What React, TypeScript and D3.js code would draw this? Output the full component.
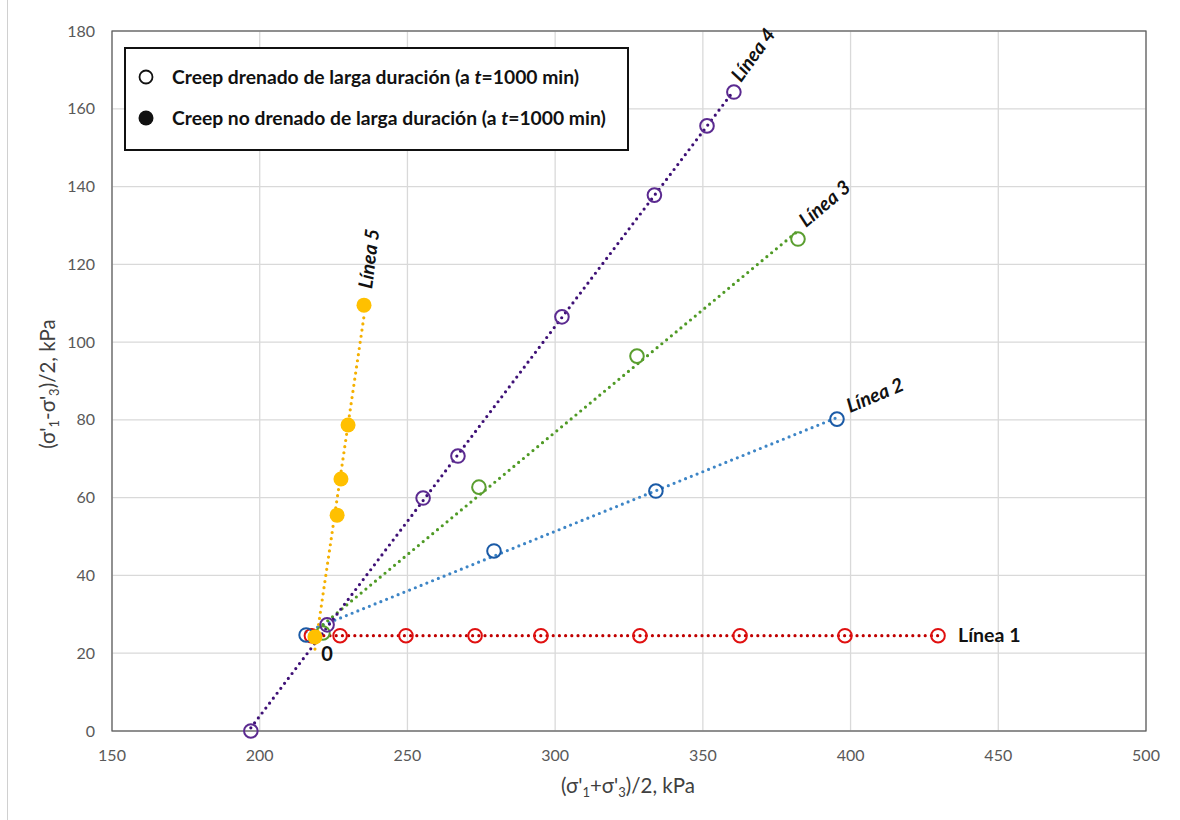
import React from "react";
import * as d3 from "d3";

const xTicks = [150, 200, 250, 300, 350, 400, 450, 500];
const yTicks = [0, 20, 40, 60, 80, 100, 120, 140, 160, 180];

const line1X = [217.5, 227.2, 249.5, 272.9, 295.2, 328.7, 362.6, 398.1, 429.6];
const line1Y = [24.5, 24.5, 24.5, 24.5, 24.5, 24.5, 24.5, 24.5, 24.5];
const line2X = [215.7, 279.3, 334.1, 395.4];
const line2Y = [24.7, 46.3, 61.7, 80.2];
const line3X = [221.4, 274.2, 327.7, 382.2];
const line3Y = [25.2, 62.7, 96.4, 126.5];
const line4X = [197.0, 222.8, 255.3, 267.1, 302.3, 333.6, 351.4, 360.5];
const line4Y = [0, 27.3, 59.9, 70.7, 106.5, 137.8, 155.6, 164.3];
const line5X = [218.7, 226.2, 227.5, 229.9, 235.3];
const line5Y = [24.2, 55.5, 64.8, 78.7, 109.5];

const seriesNames = ["Línea 1", "Línea 2", "Línea 3", "Línea 4", "Línea 5"];
const legendLabels = [
  "Creep drenado de larga duración (a ",
  "Creep no drenado de larga duración (a ",
];

const W = 1180;
const H = 820;
const M = { left: 112, right: 1146, top: 31, bottom: 731 };

const FONT = "Lato, 'Open Sans', sans-serif";

function fit(xs: number[], ys: number[]) {
  const n = xs.length;
  const mx = d3.mean(xs)!;
  const my = d3.mean(ys)!;
  let sxy = 0, sxx = 0;
  for (let i = 0; i < n; i++) {
    sxy += (xs[i] - mx) * (ys[i] - my);
    sxx += (xs[i] - mx) * (xs[i] - mx);
  }
  const b = sxy / sxx;
  const a = my - b * mx;
  const [x0, x1] = d3.extent(xs) as [number, number];
  return [
    [x0, a + b * x0],
    [x1, a + b * x1],
  ] as [number, number][];
}

export default function App() {
  const x = d3.scaleLinear().domain([150, 500]).range([M.left, M.right]);
  const y = d3.scaleLinear().domain([0, 180]).range([M.bottom, M.top]);
  const lineGen = d3
    .line<[number, number]>()
    .x((d) => x(d[0]))
    .y((d) => y(d[1]));

  const series = [
    { xs: line1X, ys: line1Y, mark: "#E01010", line: "#C00000", filled: false, dx: 20, dy: 6, rot: 0, italic: false },
    { xs: line2X, ys: line2Y, mark: "#1A5AA6", line: "#3D85C6", filled: false, dx: 13, dy: -6, rot: -23, italic: true },
    { xs: line3X, ys: line3Y, mark: "#5A9E2F", line: "#4F9A25", filled: false, dx: 8, dy: -11, rot: -40, italic: true },
    { xs: line4X, ys: line4Y, mark: "#5B2A90", line: "#3E1076", filled: false, dx: 7, dy: -9, rot: -54, italic: true },
    { xs: line5X, ys: line5Y, mark: "#FFC000", line: "#F5B000", filled: true, dx: 8, dy: -16, rot: -83, italic: true },
  ];

  return (
    <div style={{ position: "absolute", left: 0, top: 0 }}>
      <svg width={W} height={H} style={{ display: "block", background: "#fff" }}>
        <rect x={0} y={0} width={W} height={H} fill="#fff" />
        <line x1={7.5} x2={7.5} y1={0} y2={H} stroke="#D0D0D0" />
        {/* gridlines */}
        {xTicks.map((t) => (
          <line key={"gx" + t} x1={x(t)} x2={x(t)} y1={M.top} y2={M.bottom} stroke="#D9D9D9" strokeWidth={1.3} />
        ))}
        {yTicks.map((t) => (
          <line key={"gy" + t} x1={M.left} x2={M.right} y1={y(t)} y2={y(t)} stroke="#D9D9D9" strokeWidth={1.3} />
        ))}
        <rect x={M.left} y={M.top} width={M.right - M.left} height={M.bottom - M.top} fill="none" stroke="#595959" strokeWidth={1.2} />
        {/* tick labels */}
        {xTicks.map((t) => (
          <text key={"tx" + t} x={x(t)} y={761} textAnchor="middle" fontFamily={FONT} fontSize={16} fill="#595959">
            {t}
          </text>
        ))}
        {yTicks.map((t) => (
          <text key={"ty" + t} x={95} y={y(t) + 5.5} textAnchor="end" fontFamily={FONT} fontSize={16} fill="#595959">
            {t}
          </text>
        ))}
        {/* axis titles */}
        <text x={628} y={793} textAnchor="middle" fontFamily={FONT} fontSize={20.5} fill="#404040">
          (σ'<tspan fontSize={13} dy={4}>1</tspan>
          <tspan dy={-4}>+σ'</tspan>
          <tspan fontSize={13} dy={4}>3</tspan>
          <tspan dy={-4}>)/2, kPa</tspan>
        </text>
        <text transform={`translate(55,${384}) rotate(-90)`} textAnchor="middle" fontFamily={FONT} fontSize={20.5} fill="#404040">
          (σ'<tspan fontSize={13} dy={4}>1</tspan>
          <tspan dy={-4}>-σ'</tspan>
          <tspan fontSize={13} dy={4}>3</tspan>
          <tspan dy={-4}>)/2, kPa</tspan>
        </text>
        {/* trend lines */}
        {series.map((s, i) => (
          <path
            key={"l" + i}
            d={lineGen(fit(s.xs, s.ys))!}
            fill="none"
            stroke={s.line}
            strokeWidth={3.2}
            strokeLinecap="round"
            strokeDasharray="0 6.2"
          />
        ))}
        {/* markers */}
        {series.map((s, i) =>
          s.xs.map((v, j) => (
            <circle
              key={"m" + i + "-" + j}
              cx={x(v)}
              cy={y(s.ys[j])}
              r={s.filled ? 7.5 : 6.8}
              fill={s.filled ? s.mark : "none"}
              stroke={s.mark}
              strokeWidth={s.filled ? 0 : 2}
            />
          ))
        )}
        {/* line labels */}
        {series.map((s, i) => {
          const lx = x(s.xs[s.xs.length - 1]) + s.dx;
          const ly = y(s.ys[s.ys.length - 1]) + s.dy;
          return (
            <text
              key={"lab" + i}
              transform={`translate(${lx},${ly}) rotate(${s.rot})`}
              fontFamily={FONT}
              fontSize={19.5}
              fontWeight="bold"
              fontStyle={s.italic ? "italic" : "normal"}
              fill="#111"
            >
              {seriesNames[i]}
            </text>
          );
        })}
        <text x={x(222.8)} y={y(24.5) + 25} textAnchor="middle" fontFamily={FONT} fontSize={20} fontWeight="bold" fill="#111">
          0
        </text>
        {/* legend */}
        <rect x={125} y={48} width={503} height={102} fill="#fff" stroke="#111" strokeWidth={2} />
        <circle cx={146} cy={77} r={6.5} fill="#fff" stroke="#111" strokeWidth={1.8} />
        <circle cx={146} cy={118} r={7.5} fill="#111" />
        {legendLabels.map((l, i) => (
          <text key={"lg" + i} x={172} y={84 + i * 41} fontFamily={FONT} fontSize={19.3} fontWeight="bold" fill="#111">
            {l}
            <tspan fontStyle="italic">t</tspan>
            =1000 min)
          </text>
        ))}
      </svg>
    </div>
  );
}
